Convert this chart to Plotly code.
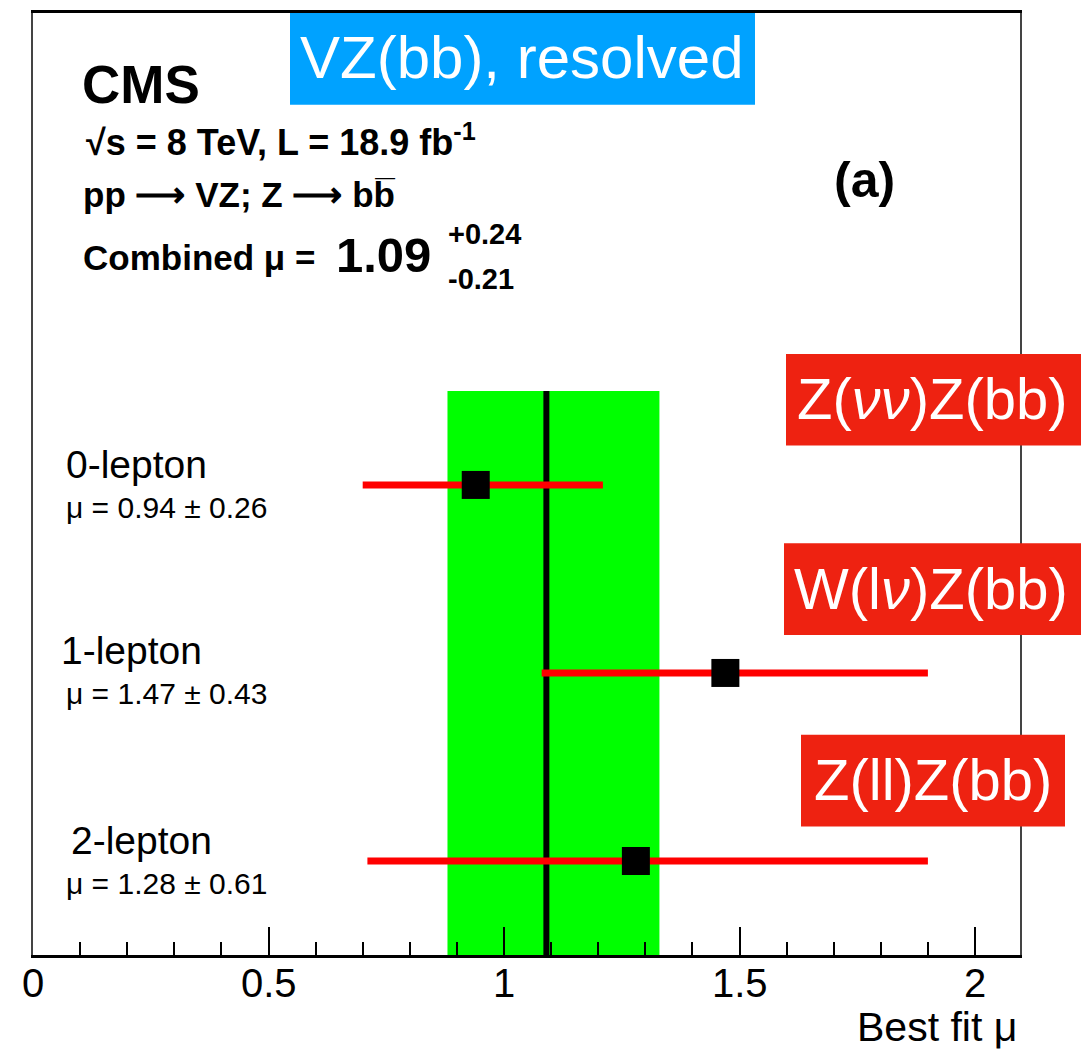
import plotly.graph_objects as go

# ---------------- data ----------------
categories = ["0-lepton", "1-lepton", "2-lepton"]
mu_values = [0.94, 1.47, 1.28]
mu_errors = [0.26, 0.43, 0.61]          # quoted in the labels
bar_err_plus = [0.27, 0.43, 0.62]        # drawn bar extents
bar_err_minus = [0.24, 0.39, 0.57]
combined_mu = 1.09
combined_up = 0.24
combined_down = 0.21
tick_values = [0, 0.5, 1, 1.5, 2]
tick_labels = ["0", "0.5", "1", "1.5", "2"]
channel_tags = ["Z(<i>ν</i><i>ν</i>)Z(bb)", "W(l<i>ν</i>)Z(bb)", "Z(ll)Z(bb)"]
headline = "VZ(bb), resolved"

# ---------------- geometry helpers (pixels -> paper) ----------------
W, H = 1081, 1049
L, R, T, B = 33, 1020, 10, 955
PW, PH = R - L, B - T


def px(x):
    return (x - L) / PW


def py(y):
    return (B - y) / PH


FONT = "Liberation Sans"
n = len(categories)
ypos = [n - i for i in range(n)]

fig = go.Figure()
fig.add_trace(go.Scatter(
    x=mu_values, y=ypos, mode="markers",
    marker=dict(symbol="square", size=28, color="black", line=dict(width=0)),
    error_x=dict(type="data", symmetric=False, array=bar_err_plus, arrayminus=bar_err_minus,
                 color="#FF0000", thickness=7, width=0),
    showlegend=False, hoverinfo="skip",
))

shapes = [
    dict(type="rect", xref="x", yref="y", x0=combined_mu - combined_down, x1=combined_mu + combined_up,
         y0=0.5, y1=n + 0.5, fillcolor="#00FF00", line=dict(width=0), layer="below"),
    dict(type="line", xref="x", yref="y", x0=combined_mu, x1=combined_mu, y0=0.5, y1=n + 0.5,
         line=dict(color="black", width=6), layer="below"),
    # highlight boxes
    dict(type="rect", xref="paper", yref="paper", x0=px(290), x1=px(755), y0=py(102), y1=py(10),
         fillcolor="#00A2FF", line=dict(width=0), layer="above"),
    dict(type="rect", xref="paper", yref="paper", x0=px(786), x1=px(1090), y0=py(444), y1=py(352),
         fillcolor="#EE2211", line=dict(width=0), layer="above"),
    dict(type="rect", xref="paper", yref="paper", x0=px(784), x1=px(1090), y0=py(634), y1=py(542),
         fillcolor="#EE2211", line=dict(width=0), layer="above"),
    dict(type="rect", xref="paper", yref="paper", x0=px(801), x1=px(1065), y0=py(826), y1=py(734),
         fillcolor="#EE2211", line=dict(width=0), layer="above"),
]

ann = []


def add(text, x, y, size, xanchor="left", bold=False, color="black", xref="paper"):
    t = f"<b>{text}</b>" if bold else text
    ann.append(dict(text=t, x=px(x) if xref == "paper" else x, y=py(y), xref=xref, yref="paper",
                    xanchor=xanchor, yanchor="middle", showarrow=False,
                    font=dict(family=FONT, size=size, color=color)))


# CMS block
add("CMS", 80, 82, 53, bold=True)
add("√s = 8 TeV, L = 18.9 fb<sup>-1</sup>", 84, 137, 36, bold=True)
add("pp ⟶ VZ; Z ⟶ bb\u0305", 81, 192, 35, bold=True)
add("Combined μ =", 81, 255, 35, bold=True)
add(f"{combined_mu:.2f}", 334, 253, 49, bold=True)
add(f"+{combined_up:.2f}", 446, 232, 29, bold=True)
add(f"-{combined_down:.2f}", 446, 277, 29, bold=True)
add("(a)", 864, 178, 50, xanchor="center", bold=True)

# channel labels
label_x = [64, 59, 69]
label_y = [463, 650, 840]
for i, cat in enumerate(categories):
    add(cat, label_x[i], label_y[i], 39)
    add(f"μ = {mu_values[i]:.2f} ± {mu_errors[i]:.2f}", 269, label_y[i] + 43, 30, xanchor="right")

# coloured tags
add(headline, 522, 55, 60, xanchor="center", color="white")
tag_x = [932, 931, 933]
tag_y = [397, 587, 779]
for i, tag in enumerate(channel_tags):
    add(tag, tag_x[i], tag_y[i], 58, xanchor="center", color="white")

# x tick labels (placed on the data axis)
for v, t in zip(tick_values, tick_labels):
    add(t, v, 983, 40, xanchor="center", xref="x")

# axis title
add("Best fit μ", 1019, 1027, 41, xanchor="right")

fig.update_layout(
    width=W, height=H,
    margin=dict(l=L, r=W - R, t=T, b=H - B, pad=0),
    paper_bgcolor="white", plot_bgcolor="white",
    shapes=shapes, annotations=ann, showlegend=False,
    xaxis=dict(range=[0, PW / 471.0], tickmode="array", tickvals=tick_values, ticktext=tick_labels,
               showticklabels=False,
               ticks="inside", ticklen=28, tickwidth=1.5, tickcolor="black",
               minor=dict(tickmode="linear", tick0=0, dtick=0.1, ticks="inside", ticklen=13,
                          tickwidth=1.5, tickcolor="black"),
               showline=True, linecolor="black", linewidth=2.5, mirror=True,
               showgrid=False, zeroline=False, layer="above traces"),
    yaxis=dict(range=[0.5, 5.51], showticklabels=False, ticks="", showgrid=False, zeroline=False,
               showline=True, linecolor="#444", linewidth=2, mirror=True),
)

fig.write_html("out.html")
